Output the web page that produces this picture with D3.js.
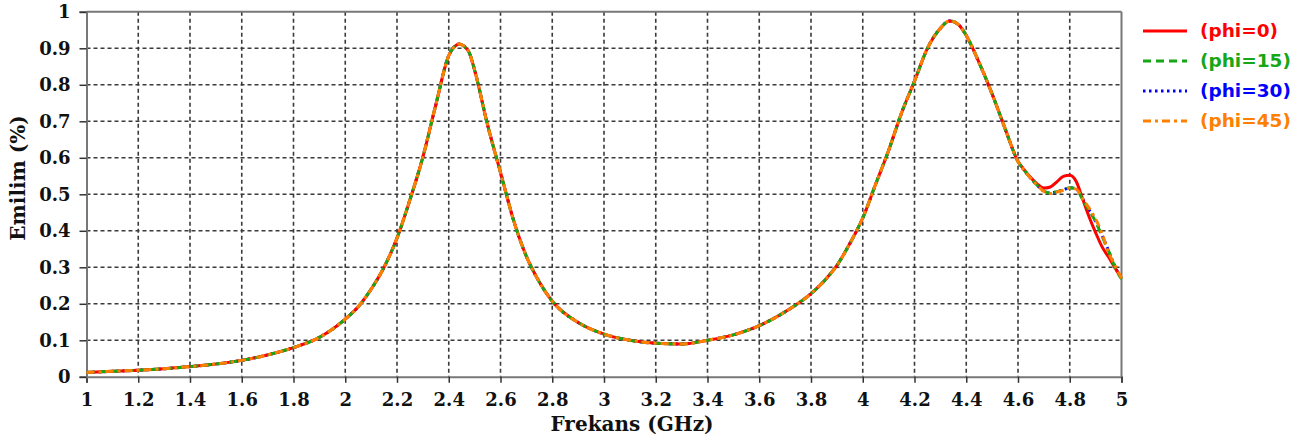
<!DOCTYPE html>
<html>
<head>
<meta charset="utf-8">
<script src="https://cdn.jsdelivr.net/npm/d3@7"></script>
<style>
  html, body { margin: 0; padding: 0; background: #ffffff; }
  svg { display: block; }
</style>
</head>
<body>
<svg id="chart" width="1303" height="443"></svg>
<script>
// ---------- DATA ----------
const freq = [1.0,1.1,1.2,1.3,1.4,1.5,1.6,1.7,1.8,1.9,2.0,2.05,2.1,2.15,2.2,2.25,2.3,2.35,2.4,2.42,2.44,2.46,2.48,2.5,2.55,2.6,2.65,2.7,2.75,2.8,2.9,3.0,3.1,3.2,3.3,3.4,3.5,3.6,3.7,3.8,3.85,3.9,3.95,4.0,4.05,4.1,4.15,4.2,4.25,4.3,4.335,4.37,4.4,4.45,4.5,4.55,4.6,4.625,4.65,4.675,4.7,4.725,4.75,4.775,4.8,4.825,4.85,4.875,4.9,4.925,4.95,4.975,5.0];

const phi0  = [0.012,0.015,0.018,0.022,0.028,0.035,0.045,0.060,0.080,0.108,0.158,0.192,0.240,0.300,0.380,0.485,0.602,0.745,0.880,0.903,0.912,0.905,0.887,0.840,0.690,0.560,0.430,0.330,0.260,0.207,0.149,0.117,0.100,0.092,0.090,0.100,0.115,0.140,0.178,0.228,0.262,0.305,0.365,0.435,0.528,0.620,0.723,0.810,0.900,0.955,0.975,0.965,0.935,0.860,0.775,0.680,0.590,0.566,0.545,0.528,0.517,0.520,0.534,0.549,0.552,0.535,0.487,0.438,0.395,0.356,0.328,0.298,0.270];
const phi15 = [0.012,0.015,0.018,0.022,0.028,0.035,0.045,0.060,0.080,0.108,0.158,0.192,0.240,0.300,0.380,0.485,0.602,0.745,0.880,0.903,0.912,0.905,0.887,0.840,0.690,0.560,0.430,0.330,0.260,0.207,0.149,0.117,0.100,0.092,0.090,0.100,0.115,0.140,0.178,0.228,0.262,0.305,0.365,0.435,0.528,0.620,0.723,0.810,0.900,0.955,0.975,0.965,0.935,0.860,0.775,0.680,0.590,0.565,0.543,0.524,0.509,0.503,0.507,0.512,0.518,0.515,0.485,0.456,0.425,0.385,0.345,0.300,0.268];
const phi30 = [0.012,0.015,0.018,0.022,0.028,0.035,0.045,0.060,0.080,0.108,0.158,0.192,0.240,0.300,0.380,0.485,0.602,0.745,0.880,0.903,0.912,0.905,0.887,0.840,0.690,0.560,0.430,0.330,0.260,0.207,0.149,0.117,0.100,0.092,0.090,0.100,0.115,0.140,0.178,0.228,0.262,0.305,0.365,0.435,0.528,0.620,0.723,0.810,0.900,0.955,0.975,0.965,0.935,0.860,0.775,0.680,0.590,0.565,0.543,0.524,0.509,0.503,0.507,0.512,0.518,0.515,0.487,0.457,0.427,0.388,0.345,0.302,0.268];
const phi45 = [0.012,0.015,0.018,0.022,0.028,0.035,0.045,0.060,0.080,0.108,0.158,0.192,0.240,0.300,0.380,0.485,0.602,0.745,0.880,0.903,0.912,0.905,0.887,0.840,0.690,0.560,0.430,0.330,0.260,0.207,0.149,0.117,0.100,0.092,0.090,0.100,0.115,0.140,0.178,0.228,0.262,0.305,0.365,0.435,0.528,0.620,0.723,0.810,0.900,0.955,0.975,0.965,0.935,0.860,0.775,0.680,0.590,0.565,0.543,0.524,0.508,0.502,0.506,0.511,0.517,0.514,0.488,0.462,0.432,0.392,0.340,0.305,0.270];

const seriesNames = ["(phi=0)","(phi=15)","(phi=30)","(phi=45)"];
const seriesColors = ["#ff0000","#16a616","#0000ff","#ff8000"];
const xTicks = [1,1.2,1.4,1.6,1.8,2,2.2,2.4,2.6,2.8,3,3.2,3.4,3.6,3.8,4,4.2,4.4,4.6,4.8,5];
const yTicks = [0,0.1,0.2,0.3,0.4,0.5,0.6,0.7,0.8,0.9,1];
const xTitle = "Frekans (GHz)";
const yTitle = "Emilim (%)";

// ---------- LAYOUT ----------
const L = 86.5, R = 1121.5, T = 11.8, B = 376.8;
const svg = d3.select("#chart");
const x = d3.scaleLinear().domain([1,5]).range([L,R]);
const y = d3.scaleLinear().domain([0,1]).range([B,T]);
const serif = "'DejaVu Serif', 'Liberation Serif', serif";

// grid
const grid = svg.append("g");
grid.selectAll("line.v").data(xTicks.filter(d => d>1 && d<5)).enter().append("line")
  .attr("x1", d=>x(d)).attr("x2", d=>x(d)).attr("y1", T).attr("y2", B)
  .attr("stroke", "#3a3a3a").attr("stroke-width", 1.6).attr("stroke-dasharray", "4,3");
grid.selectAll("line.h").data(yTicks.filter(d => d>0 && d<1)).enter().append("line")
  .attr("x1", L).attr("x2", R).attr("y1", d=>y(d)).attr("y2", d=>y(d))
  .attr("stroke", "#3a3a3a").attr("stroke-width", 1.6).attr("stroke-dasharray", "4,3");

// box (top, right)
svg.append("line").attr("x1", L).attr("x2", R).attr("y1", T).attr("y2", T)
  .attr("stroke", "#777").attr("stroke-width", 2);
svg.append("line").attr("x1", R).attr("x2", R).attr("y1", T).attr("y2", B)
  .attr("stroke", "#777").attr("stroke-width", 2);

// axes
const xAxis = svg.append("g").attr("transform", `translate(0,${B})`)
  .call(d3.axisBottom(x).tickValues(xTicks).tickFormat(d3.format("~g")).tickSizeOuter(0).tickSize(6).tickPadding(10));
const yAxis = svg.append("g").attr("transform", `translate(${L},0)`)
  .call(d3.axisLeft(y).tickValues(yTicks).tickFormat(d3.format("~g")).tickSizeOuter(0).tickSize(7).tickPadding(9));
[xAxis, yAxis].forEach(a => {
  a.select(".domain").attr("stroke", "#777").attr("stroke-width", 2);
  a.selectAll(".tick line").attr("stroke", "#333").attr("stroke-width", 1.5);
  a.selectAll(".tick text").attr("font-family", serif).attr("font-weight", "bold")
    .attr("font-size", 18).attr("fill", "#111");
});

// series
const seriesData = [phi0, phi15, phi30, phi45];
const dashes = [null, "8,5", "2.5,3.5", "8,4,3,4"];
const line = d3.line().x((d,i)=>x(freq[i])).y(d=>y(d)).curve(d3.curveMonotoneX);
const drawOrder = [2,0,1,3];
drawOrder.forEach(k => {
  svg.append("path").datum(seriesData[k])
    .attr("d", line).attr("fill", "none")
    .attr("stroke", seriesColors[k]).attr("stroke-width", 3)
    .attr("stroke-linejoin", "round")
    .attr("stroke-dasharray", dashes[k]);
});

// titles
svg.append("text").attr("x", 632).attr("y", 431).attr("text-anchor", "middle")
  .attr("font-family", serif).attr("font-weight", "bold").attr("font-size", 20)
  .attr("fill", "#111").text(xTitle);
svg.append("text").attr("transform", "translate(25,178) rotate(-90)").attr("text-anchor", "middle")
  .attr("font-family", serif).attr("font-weight", "bold").attr("font-size", 20)
  .attr("fill", "#111").text(yTitle);

// legend
const legY = [31, 61, 91, 121];
const leg = svg.append("g");
seriesNames.forEach((name, k) => {
  leg.append("line").attr("x1", 1143).attr("x2", 1187).attr("y1", legY[k]).attr("y2", legY[k])
    .attr("stroke", seriesColors[k]).attr("stroke-width", 3)
    .attr("stroke-dasharray", dashes[k]);
  leg.append("text").attr("x", 1200).attr("y", legY[k]).attr("dy", "0.35em")
    .attr("font-family", "'DejaVu Sans', Verdana, sans-serif").attr("font-weight", "bold")
    .attr("font-size", 18.5).attr("fill", seriesColors[k]).text(name);
});
</script>
</body>
</html>
